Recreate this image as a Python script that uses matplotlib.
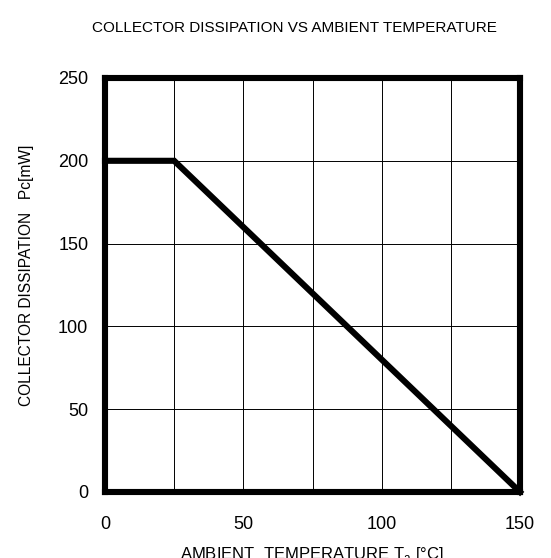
import matplotlib
matplotlib.use("Agg")
import matplotlib.pyplot as plt

temperature = [0, 25, 150]
power = [200, 200, 0]
x_ticks = [0, 50, 100, 150]
y_ticks = [0, 50, 100, 150, 200, 250]
x_grid = [0, 25, 50, 75, 100, 125, 150]

plt.rcParams['font.family'] = ['Liberation Sans', 'DejaVu Sans']

fig = plt.figure(figsize=(5.51, 5.58), dpi=100)
L, R, T, B = 105, 520, 78, 492
ax = fig.add_axes([L/551, 1-B/558, (R-L)/551, (B-T)/558])
ax.plot(temperature, power, color='black', lw=4.4, solid_joinstyle='miter', clip_on=False, zorder=3)
ax.set_xlim(0, 150)
ax.set_ylim(0, 250)
ax.set_xticks(x_grid)
ax.set_xticklabels([str(v) if v in x_ticks else '' for v in x_grid])
ax.set_yticks(y_ticks)
ax.grid(True, color='black', lw=0.7)
ax.tick_params(length=0, labelsize=13)
ax.tick_params(axis='x', pad=17)
ax.tick_params(axis='y', pad=12)
for s in ax.spines.values():
    s.set_linewidth(4.4)
    s.set_capstyle('projecting')

fig.text(294/551, 1-28/558, 'COLLECTOR DISSIPATION VS AMBIENT TEMPERATURE', ha='center', va='center', fontsize=11)
fig.text(27/551, 1-275/558, 'COLLECTOR DISSIPATION   Pc[mW]', rotation=90, ha='center', va='center', fontsize=11.2)
fig.text(312/551, 1-555/558, r'AMBIENT  TEMPERATURE T$_\mathregular{a}$ [°C]', ha='center', va='center', fontsize=12)

fig.savefig('out.png', dpi=100)
